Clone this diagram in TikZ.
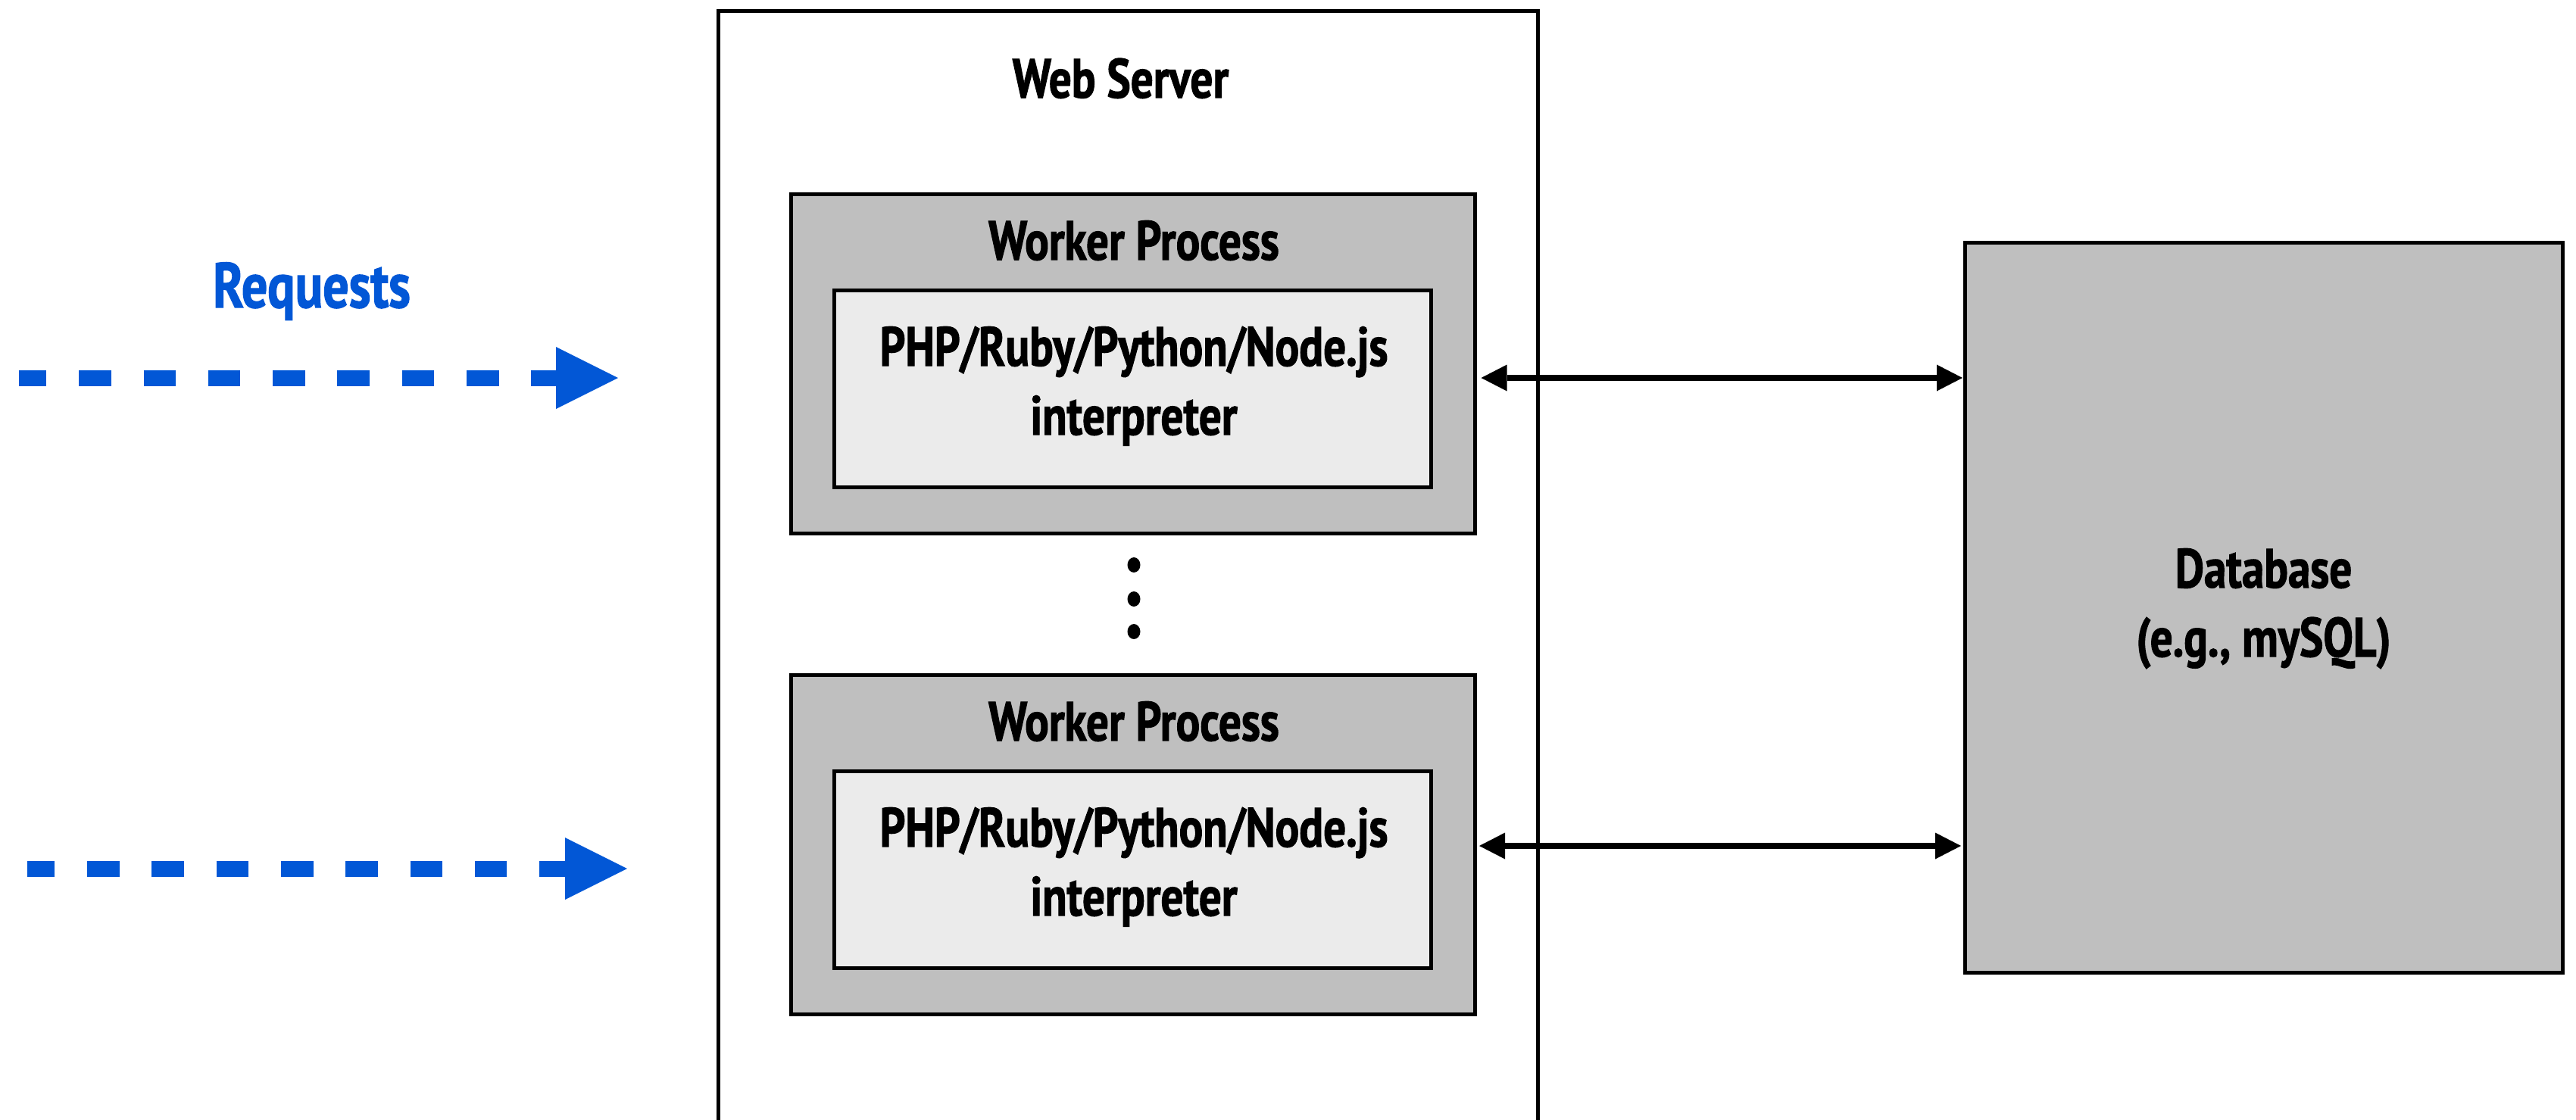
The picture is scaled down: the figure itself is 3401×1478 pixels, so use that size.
\documentclass[tikz,border=0pt]{standalone}
\usepackage{fontspec}
\setmainfont{PT Sans}
\newfontfamily\cond[FakeStretch=0.81,FakeBold=1.5]{PT Sans}
\usetikzlibrary{arrows.meta}
\definecolor{boxgray}{HTML}{BFBFBF}
\definecolor{innergray}{HTML}{EBEBEB}
\definecolor{reqblue}{HTML}{0257D6}
\begin{document}
\begin{tikzpicture}[x=1pt,y=-1pt,
  box/.style={draw=black,line width=5pt,inner sep=0pt,anchor=center},
  lbl/.style={font=\cond\bfseries\fontsize{73}{91}\selectfont,inner sep=0pt,anchor=base,align=center},
  reqlbl/.style={font=\cond\bfseries\fontsize{84}{100}\selectfont,text=reqblue,inner sep=0pt,anchor=base},
  bi/.style={line width=7.5pt,{Triangle[length=34pt,width=35pt,line width=0pt]}-{Triangle[length=34pt,width=35pt,line width=0pt]}},
  req/.style={draw=reqblue,line width=21pt,dash pattern=on 42.5pt off 42.8pt,dash phase=5.8pt,-{Triangle[length=82pt,width=82pt,line width=0pt]}}
]
\useasboundingbox (0,0) rectangle (3401,1478);
\clip (0,0) rectangle (3401,1478);

% web server container
\node[box, fill=white, minimum width=1082pt, minimum height=1586pt] (ws) at (1489,807) {};
\node[lbl] (wslbl) at (1479.5,129) {Web Server};

% worker 1
\node[box, fill=boxgray, minimum width=903pt, minimum height=448pt] (w1) at (1495.5,480) {};
\node[lbl] (w1lbl) at (1497,343) {Worker Process};
\node[box, fill=innergray, minimum width=788pt, minimum height=260pt] (i1) at (1495,513) {};
\node[lbl] (i1lbl) at (1497,574) {PHP/Ruby/Python/Node.js\\interpreter};

% worker 2
\node[box, fill=boxgray, minimum width=903pt, minimum height=448pt] (w2) at (1495.5,1115) {};
\node[lbl] (w2lbl) at (1497,978) {Worker Process};
\node[box, fill=innergray, minimum width=788pt, minimum height=260pt] (i2) at (1495,1148) {};
\node[lbl] (i2lbl) at (1497,1209) {PHP/Ruby/Python/Node.js\\interpreter};

% dots
\fill (1497,746) ellipse [x radius=8.5pt, y radius=10pt];
\fill (1497,791) ellipse [x radius=8.5pt, y radius=10pt];
\fill (1497,834) ellipse [x radius=8.5pt, y radius=10pt];

% database
\node[box, fill=boxgray, minimum width=789pt, minimum height=964pt] (db) at (2988.5,802) {};
\node[lbl] (dblbl) at (2988.5,867) {Database\\(e.g., mySQL)};

% requests
\node[reqlbl] (reqlbl) at (411.5,406) {Requests};
\coordinate (r1a) at (24.7,499);
\coordinate (r1b) at (816,499);
\coordinate (r2a) at (35.6,1147);
\coordinate (r2b) at (828,1147);
\draw[req] (r1a) -- (r1b);
\draw[req] (r2a) -- (r2b);

% db connections
\coordinate (a1) at (0,499);
\coordinate (a2) at (0,1117);
\draw[bi, shorten <=6pt, shorten >=0.5pt] (w1.east |- a1) -- (db.west |- a1);
\draw[bi, shorten <=3.5pt, shorten >=2.5pt] (w2.east |- a2) -- (db.west |- a2);
\end{tikzpicture}
\end{document}
